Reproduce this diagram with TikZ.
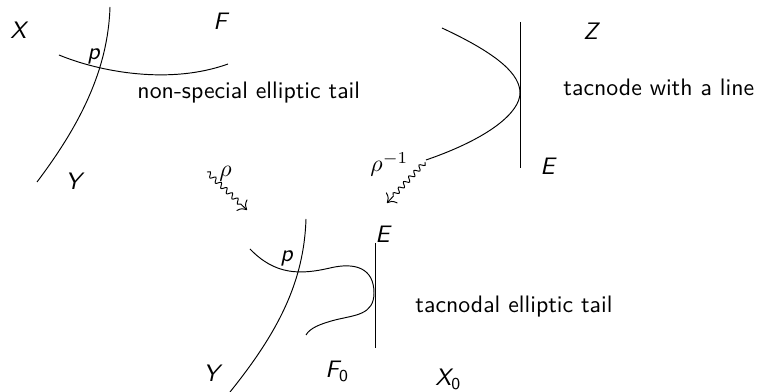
\documentclass[tikz,border=0pt]{standalone}
\usepackage{amsmath,amssymb}
\usetikzlibrary{arrows.meta,decorations.pathmorphing}

\begin{document}
\begin{tikzpicture}[
    every node/.style={font=\sffamily},
    lbl/.style={font=\sffamily\itshape,anchor=base west,inner sep=0pt},
    txt/.style={anchor=base west,inner sep=0pt},
    crv/.style={thin},
    squig/.style={-{To[length=1.1mm]},thin,decorate,
                  decoration={snake,amplitude=1pt,segment length=3.2pt,post length=2.5pt}},
    x=0.42pt,y=-0.42pt,
  ]
    \useasboundingbox (0,0) rectangle (779,392);
    % top left: X with a non-special elliptic tail
    \draw[crv] (110,7) .. controls (108,70) and (80,125) .. (37,182);
    \draw[crv] (59,55) .. controls (100,72) and (170,85) .. (228,64);
    \node[lbl] (X)  at (10,39)  {X};
    \node[lbl] (F)  at (213,30) {F};
    \node[lbl] (p)  at (87,60)  {p};
    \node[lbl] (Y)  at (65,190) {Y};
    \node[txt] (ns) at (137,99) {non-special elliptic tail};
    % top right: Z, tacnode with a line
    \draw[crv] (520,22) -- (520,168);
    \draw[crv] (442,28) .. controls (500,55) and (520,75) .. (520,93)
               .. controls (520,112) and (490,138) .. (426,160);
    \node[lbl] (Z)  at (583,40)  {Z};
    \node[lbl] (E)  at (540,175) {E};
    \node[txt] (tl) at (563,96)  {tacnode with a line};
    % bottom: X_0 with a tacnodal elliptic tail
    \draw[crv] (375,243) -- (375,348);
    \draw[crv] (306,219) .. controls (304,280) and (280,330) .. (230,392);
    \draw[crv] (250,249) .. controls (275,275) and (300,275) .. (330,268)
               .. controls (355,262) and (374,268) .. (374,293)
               .. controls (374,315) and (355,315) .. (335,320)
               .. controls (320,324) and (310,328) .. (306,335);
    \node[lbl] (E0) at (375,243) {E};
    \node[lbl] (p0) at (280,262) {p};
    \node[lbl] (Y0) at (203,382) {Y};
    \node[lbl] (F0) at (325,378) {F\textsubscript{\upshape 0}};
    \node[lbl] (X0) at (435,386) {X\textsubscript{\upshape 0}};
    \node[txt] (td) at (415,313) {tacnodal elliptic tail};
    % maps
    \coordinate (r1s) at (207,172);
    \coordinate (r1t) at (247,210);
    \coordinate (r2s) at (425,162);
    \coordinate (r2t) at (387,203);
    \draw[squig] (r1s) -- (r1t);
    \draw[squig] (r2s) -- (r2t);
    \node[txt] (rho)  at (219,177) {$\rho$};
    \node[txt] (rhoi) at (370,172) {$\rho^{-1}$};
\end{tikzpicture}
\end{document}
